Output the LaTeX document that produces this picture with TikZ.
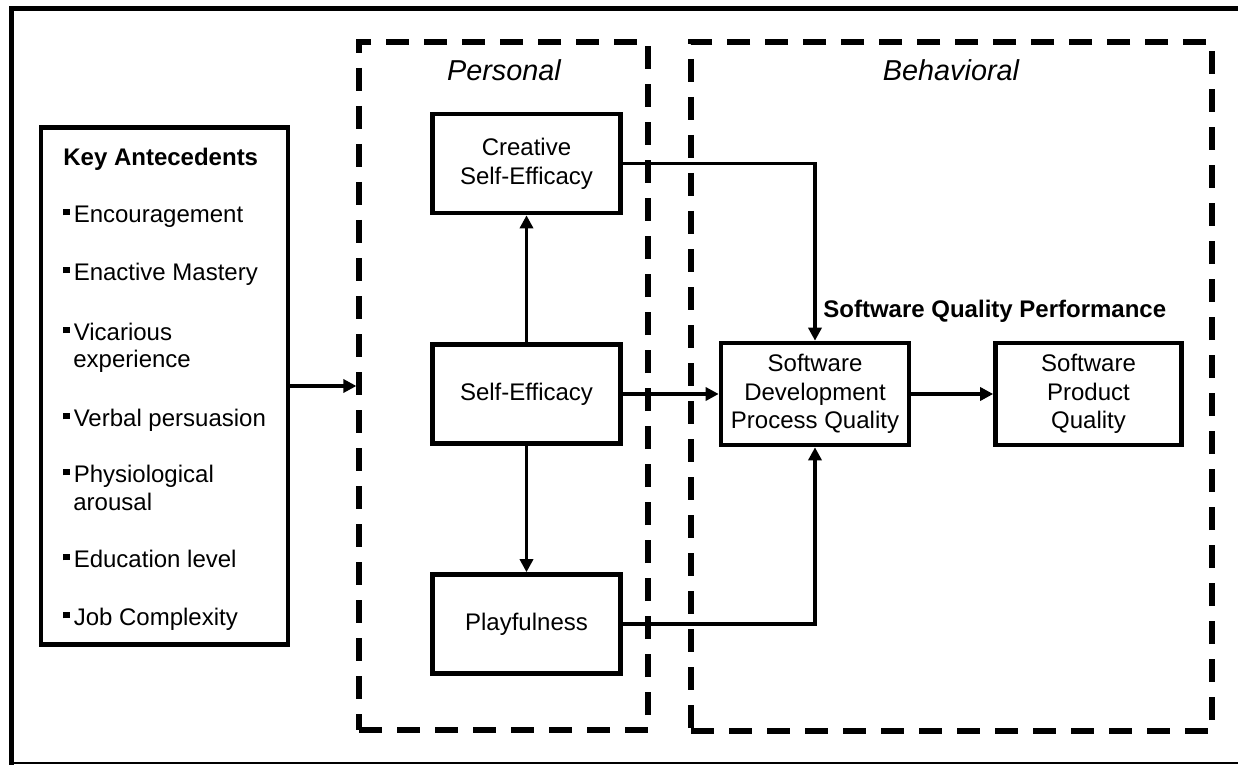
\documentclass[tikz,border=0pt]{standalone}
\usepackage{fontspec}
\setmainfont{Liberation Sans}
\usetikzlibrary{arrows.meta}
\newcommand{\sqbul}{\rule[3.3pt]{3.2pt}{3.2pt}\hspace{2pt}}
\begin{document}
\begin{tikzpicture}[x=0.5pt,y=-0.5pt,
  box/.style={draw,line width=2.3pt,minimum width=94pt,minimum height=49.5pt,inner sep=0pt,align=center,font=\fontsize{12}{14.3}\selectfont},
  dashbox/.style={draw,line width=2.6pt,dash pattern=on 11.5pt off 7.5pt,inner sep=0pt},
  arr/.style={line width=1.7pt,-{Triangle[length=6.5pt,width=6.5pt]}},
  lbl/.style={font=\fontsize{12}{14.3}\selectfont,anchor=base west,inner sep=0pt},
  ttl/.style={font=\fontsize{14.4}{17}\selectfont\itshape,anchor=base,inner sep=0pt}]
\useasboundingbox (0,0) rectangle (1238,765);

% outer frame
\draw[line width=2.5pt] (1240,8.5) -- (11.5,8.5) -- (11.5,767);
\draw[line width=1pt] (11.5,763) -- (1240,763);

% dashed group boxes
\node[dashbox,minimum width=144.5pt,minimum height=344pt] (personal) at (503.5,386) {};
\node[dashbox,minimum width=260.5pt,minimum height=344.5pt] (behav) at (951.5,386.5) {};
\node[ttl] (ptitle) at (504,81) {Personal};
\node[ttl] (btitle) at (951,81) {Behavioral};

% key antecedents
\node[box,minimum width=123.5pt,minimum height=258.5pt] (ka) at (164.5,386) {};
\node[lbl,font=\fontsize{12}{14.3}\selectfont\bfseries] (kat) at (63,166) {Key Antecedents};
\node[lbl] (k1) at (63,222) {\sqbul Encouragement};
\node[lbl] (k2) at (63,280) {\sqbul Enactive Mastery};
\node[lbl] (k3) at (63,340) {\sqbul Vicarious};
\node[lbl] (k3b) at (73,367) {experience};
\node[lbl] (k4) at (63,426) {\sqbul Verbal persuasion};
\node[lbl] (k5) at (63,482) {\sqbul Physiological};
\node[lbl] (k5b) at (73,510) {arousal};
\node[lbl] (k6) at (63,567) {\sqbul Education level};
\node[lbl] (k7) at (63,625) {\sqbul Job Complexity};

% personal boxes
\node[box] (cse) at (526.5,163.5) {Creative\\Self-Efficacy};
\node[box] (se) at (526.5,394) {Self-Efficacy};
\node[box] (play) at (526.5,624) {Playfulness};

% behavioral boxes
\node[box,minimum height=51pt] (sdpq) at (815,394) {Software\\Development\\Process Quality};
\node[box,minimum height=51pt,minimum width=93pt] (spq) at (1088.5,394) {Software\\Product\\Quality};
\node[lbl,font=\fontsize{12}{14.3}\selectfont\bfseries] (sqp) at (823,317) {Software Quality Performance};

% connectors
\draw[arr] (ka.east) -- (ka.east -| personal.west);
\draw[arr] (se.north) -- (cse.south);
\draw[arr] (se.south) -- (play.north);
\draw[arr] (se.east) -- (sdpq.west);
\draw[arr] (cse.east) -| (sdpq.north);
\draw[arr] (play.east) -| (sdpq.south);
\draw[arr] (sdpq.east) -- (spq.west);
\end{tikzpicture}
\end{document}
